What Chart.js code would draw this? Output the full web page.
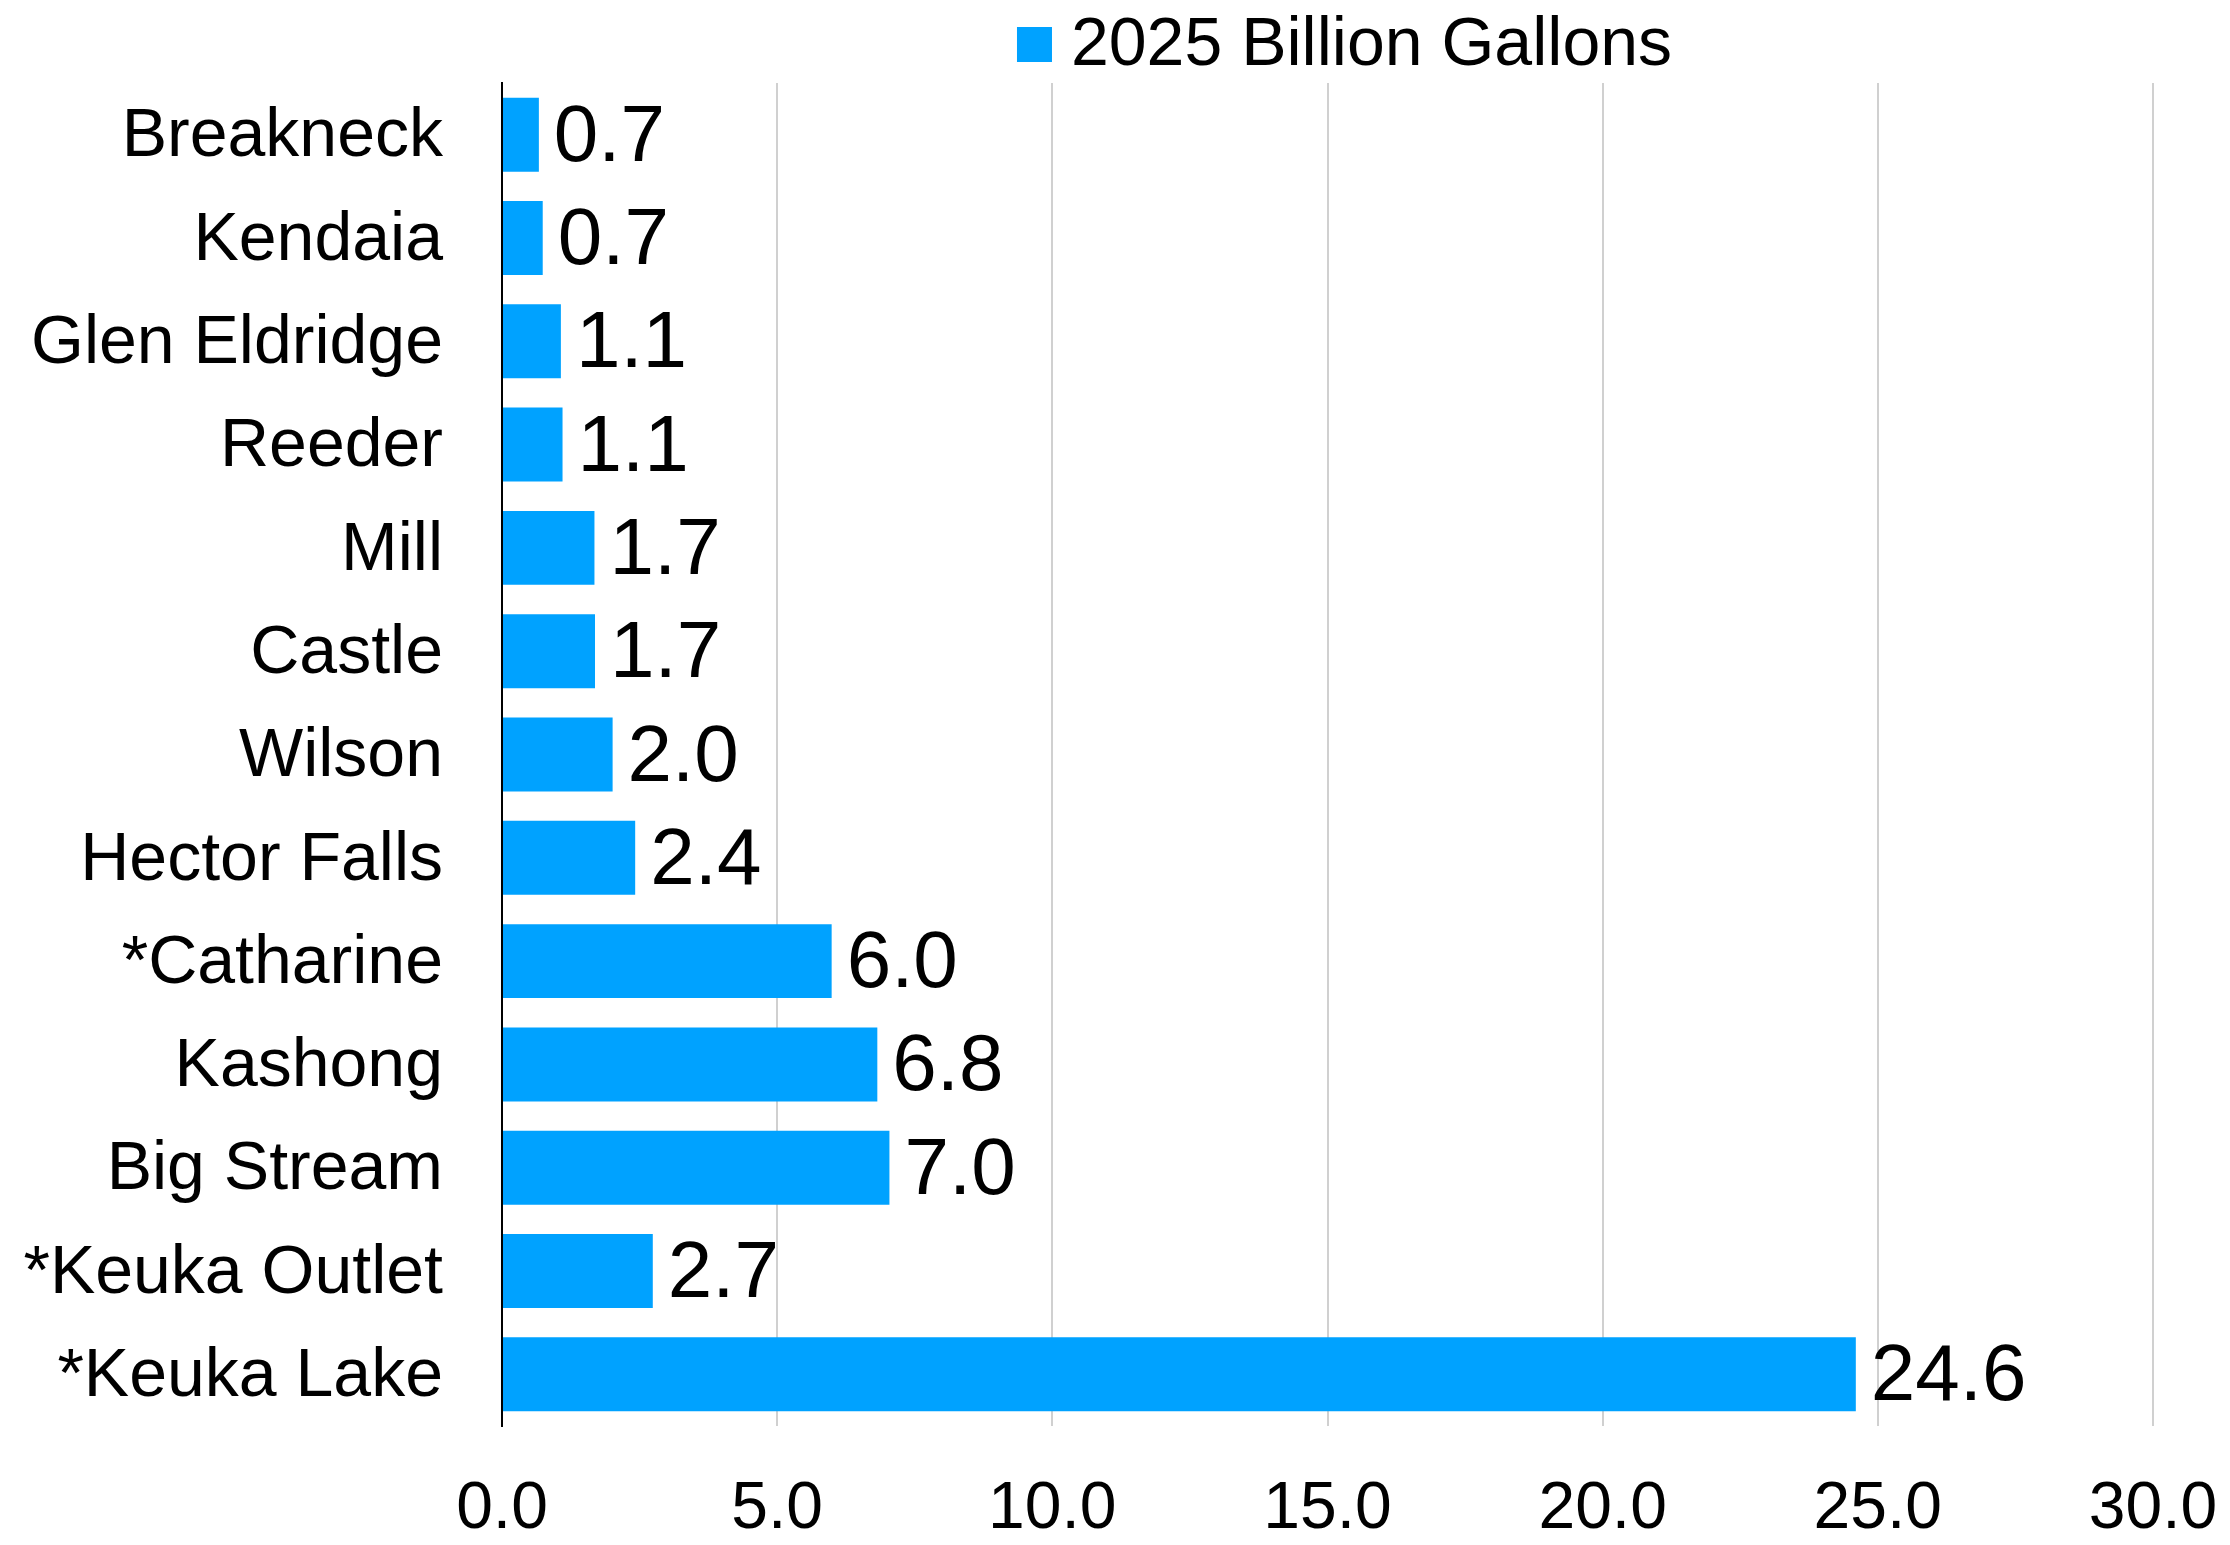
<!DOCTYPE html>
<html>
<head>
<meta charset="utf-8">
<script src="https://cdn.jsdelivr.net/npm/chart.js@4.4.1/dist/chart.umd.min.js"></script>
<style>
  html, body { margin: 0; padding: 0; background: #ffffff; }
  #wrap { width: 2230px; height: 1545px; position: relative; }
</style>
</head>
<body>
<div id="wrap"><canvas id="chart" width="2230" height="1545"></canvas></div>
<script>
// Stream inflow volumes, 2025 (billion gallons)
const streams = ['Breakneck', 'Kendaia', 'Glen Eldridge', 'Reeder', 'Mill', 'Castle', 'Wilson',
  'Hector Falls', '*Catharine', 'Kashong', 'Big Stream', '*Keuka Outlet', '*Keuka Lake'];
const gallons2025 = [0.67, 0.74, 1.07, 1.10, 1.68, 1.69, 2.01, 2.42, 5.99, 6.82, 7.04, 2.74, 24.6];
const seriesName = '2025 Billion Gallons';
const xTickValues = [0, 5, 10, 15, 20, 25, 30];

const FONT = "'Liberation Sans', Arial, sans-serif";
const BAR_COLOR = '#00A2FF';

// Value labels at the end of each bar
const valueLabels = {
  id: 'valueLabels',
  afterDatasetsDraw(chart) {
    const ctx = chart.ctx;
    const meta = chart.getDatasetMeta(0);
    const values = chart.data.datasets[0].data;
    ctx.save();
    ctx.font = '80px ' + FONT;
    ctx.fillStyle = '#000000';
    ctx.textAlign = 'left';
    ctx.textBaseline = 'middle';
    meta.data.forEach((bar, i) => {
      ctx.fillText(values[i].toFixed(1), bar.x + 15, bar.y + 4);
    });
    ctx.restore();
  }
};

// Legend drawn above the plot area
const topLegend = {
  id: 'topLegend',
  afterDraw(chart) {
    const ctx = chart.ctx;
    const area = chart.chartArea;
    const box = 35;
    ctx.save();
    ctx.font = '68px ' + FONT;
    const tw = ctx.measureText(seriesName).width;
    const total = box + 19 + tw;
    const cx = (area.left + area.right) / 2 + 17;
    const left = cx - total / 2;
    ctx.fillStyle = BAR_COLOR;
    ctx.fillRect(left, 27, box, box);
    ctx.fillStyle = '#000000';
    ctx.textAlign = 'left';
    ctx.textBaseline = 'middle';
    ctx.fillText(seriesName, left + box + 19, 46);
    ctx.restore();
  }
};

new Chart(document.getElementById('chart'), {
  type: 'bar',
  data: {
    labels: streams,
    datasets: [{
      label: seriesName,
      data: gallons2025,
      backgroundColor: BAR_COLOR,
      borderWidth: 0,
      categoryPercentage: 1.0,
      barPercentage: 0.716
    }]
  },
  options: {
    indexAxis: 'y',
    responsive: false,
    animation: false,
    devicePixelRatio: 1,
    layout: { padding: { top: 83, right: 77, bottom: 0, left: 0 } },
    plugins: {
      legend: { display: false },
      tooltip: { enabled: false }
    },
    scales: {
      x: {
        min: xTickValues[0],
        max: xTickValues[xTickValues.length - 1],
        afterBuildTicks(scale) {
          scale.ticks = xTickValues.map(v => ({ value: v }));
        },
        afterFit(scale) {
          scale.height = 119;
          scale.paddingLeft = 0;
          scale.paddingRight = 0;
        },
        border: { display: false },
        grid: { color: '#d0d0d0', lineWidth: 2, drawTicks: false },
        ticks: {
          padding: 44,
          color: '#000000',
          font: { family: FONT, size: 66 },
          maxRotation: 0,
          callback: (v) => Number(v).toFixed(1)
        }
      },
      y: {
        afterFit(scale) {
          scale.width = 502;
          scale.paddingTop = 0;
          scale.paddingBottom = 0;
        },
        border: { display: true, color: '#000000', width: 2 },
        grid: { display: false, drawTicks: false },
        ticks: {
          padding: 59,
          labelOffset: 3,
          color: '#000000',
          font: { family: FONT, size: 68 },
          autoSkip: false
        }
      }
    }
  },
  plugins: [valueLabels, topLegend]
});
</script>
</body>
</html>
